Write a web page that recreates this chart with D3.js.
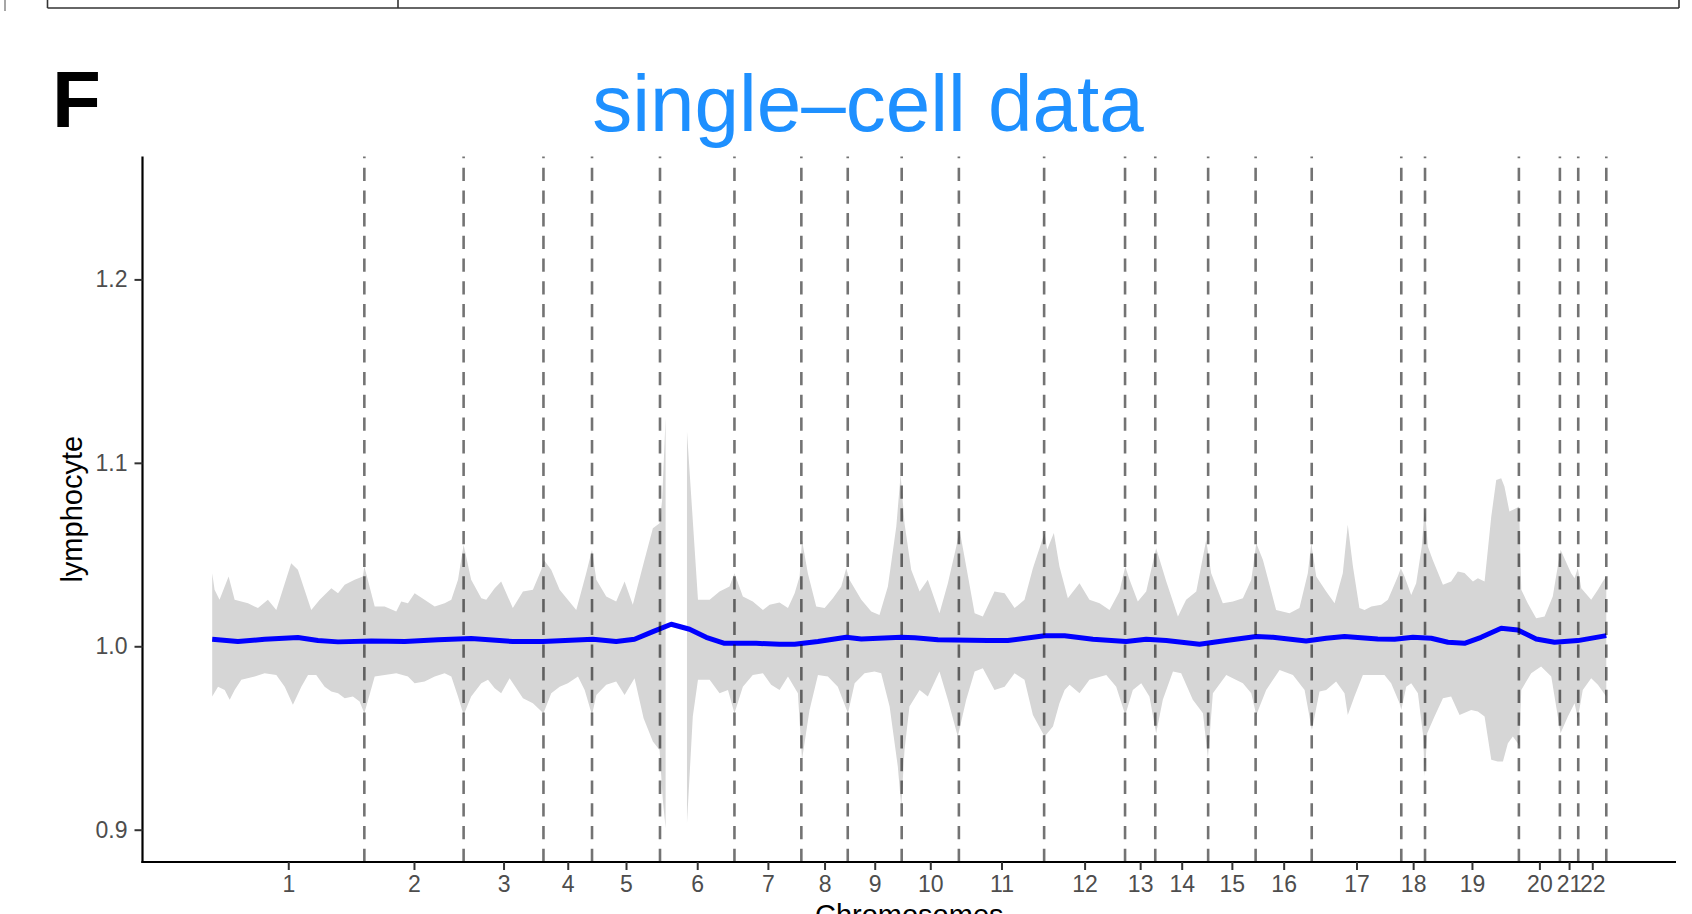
<!DOCTYPE html>
<html>
<head>
<meta charset="utf-8">
<script src="https://cdn.jsdelivr.net/npm/d3@7"></script>
<style>
  html, body { margin: 0; padding: 0; background: #fff; }
  svg { display: block; font-family: "Liberation Sans", Arial, Helvetica, sans-serif; }
</style>
</head>
<body>
<svg id="chart" width="1692" height="914"></svg>
<script>
// ---------------- data ----------------
const chromosomes = ["1","2","3","4","5","6","7","8","9","10","11","12","13","14","15","16","17","18","19","20","21","22"];
const chrGeneCounts = [705,460,370,225,315,345,310,215,250,265,395,375,140,245,220,260,415,110,435,190,85,130];
const yTicks = [0.9, 1.0, 1.1, 1.2];
const yDomain = [0.8824, 1.267];

// smoothed mean (gene index, value)
const meanLine = [[0,1.0038],[119,1.0026],[243,1.0038],[397,1.0048],[490,1.0031],[583,1.0024],[737,1.0029],[892,1.0026],[1046,1.0035],[1200,1.0042],[1393,1.0026],[1532,1.0026],[1764,1.0038],[1872,1.0026],[1957,1.0038],[2042,1.0080],[2127,1.0120],[2212,1.0093],[2289,1.0049],[2374,1.0016],[2521,1.0016],[2629,1.0011],[2699,1.0011],[2807,1.0026],[2938,1.0049],[3008,1.0040],[3193,1.0049],[3255,1.0046],[3363,1.0035],[3594,1.0031],[3687,1.0031],[3857,1.0057],[3950,1.0057],[4081,1.0038],[4235,1.0026],[4328,1.0038],[4421,1.0031],[4575,1.0011],[4699,1.0031],[4838,1.0053],[4915,1.0049],[5069,1.0029],[5162,1.0044],[5247,1.0053],[5401,1.0040],[5479,1.0038],[5564,1.0049],[5649,1.0044],[5726,1.0022],[5803,1.0016],[5880,1.0049],[5973,1.0098],[6050,1.0089],[6135,1.0040],[6220,1.0022],[6328,1.0031],[6460,1.0058]];

// ribbon upper bound (null value = break in ribbon)
const ribbonUpper = [[0,1.0398],[11,1.0308],[34,1.0253],[76,1.0380],[104,1.0253],[135,1.0244],[166,1.0235],[212,1.0208],[258,1.0253],[297,1.0198],[366,1.0453],[397,1.0417],[459,1.0198],[498,1.0253],[552,1.0317],[583,1.0289],[614,1.0335],[660,1.0362],[698,1.0380],[705,1.0435],[753,1.0217],[799,1.0217],[853,1.0189],[876,1.0244],[907,1.0235],[938,1.0289],[984,1.0253],[1031,1.0217],[1077,1.0235],[1108,1.0253],[1139,1.0362],[1165,1.0553],[1200,1.0362],[1247,1.0262],[1270,1.0253],[1309,1.0317],[1339,1.0353],[1393,1.0208],[1440,1.0298],[1486,1.0308],[1525,1.0417],[1537,1.0471],[1571,1.0417],[1610,1.0308],[1648,1.0253],[1687,1.0198],[1733,1.0398],[1760,1.0526],[1780,1.0362],[1826,1.0271],[1872,1.0244],[1911,1.0353],[1949,1.0226],[1999,1.0453],[2042,1.0644],[2073,1.0671],[2085,1.0798],[2101,1.1244],
  [2150,null],
  [2200,1.1171],[2251,1.0253],[2305,1.0253],[2351,1.0298],[2397,1.0326],[2420,1.0398],[2459,1.0271],[2505,1.0244],[2552,1.0198],[2583,1.0226],[2629,1.0238],[2668,1.0208],[2699,1.0289],[2722,1.0380],[2733,1.0580],[2760,1.0398],[2799,1.0217],[2838,1.0208],[2876,1.0262],[2915,1.0326],[2938,1.0426],[2953,1.0362],[3008,1.0253],[3054,1.0189],[3092,1.0171],[3131,1.0326],[3170,1.0653],[3190,1.0935],[3208,1.0671],[3239,1.0417],[3278,1.0298],[3316,1.0362],[3370,1.0180],[3409,1.0344],[3448,1.0544],[3463,1.0635],[3494,1.0435],[3533,1.0180],[3571,1.0162],[3625,1.0298],[3672,1.0289],[3718,1.0208],[3764,1.0253],[3803,1.0426],[3857,1.0617],[3869,1.0526],[3900,1.0617],[3926,1.0435],[3965,1.0262],[4019,1.0344],[4065,1.0253],[4112,1.0235],[4158,1.0198],[4204,1.0298],[4231,1.0435],[4251,1.0362],[4289,1.0244],[4328,1.0298],[4374,1.0535],[4421,1.0353],[4475,1.0162],[4513,1.0253],[4560,1.0298],[4606,1.0580],[4629,1.0398],[4683,1.0235],[4730,1.0244],[4776,1.0262],[4815,1.0362],[4838,1.0562],[4869,1.0471],[4930,1.0198],[4992,1.0180],[5038,1.0208],[5077,1.0398],[5093,1.0562],[5116,1.0380],[5162,1.0298],[5201,1.0235],[5239,1.0398],[5262,1.0662],[5286,1.0435],[5316,1.0208],[5340,1.0198],[5371,1.0217],[5417,1.0226],[5448,1.0253],[5494,1.0380],[5508,1.0426],[5525,1.0380],[5556,1.0280],[5579,1.0344],[5605,1.0544],[5619,1.0762],[5633,1.0544],[5656,1.0471],[5703,1.0335],[5741,1.0353],[5772,1.0408],[5803,1.0399],[5842,1.0353],[5865,1.0371],[5896,1.0353],[5927,1.0707],[5950,1.0907],[5973,1.0916],[5988,1.0871],[6011,1.0735],[6042,1.0753],[6056,1.0762],[6066,1.0308],[6096,1.0235],[6135,1.0153],[6174,1.0162],[6212,1.0271],[6248,1.0526],[6297,1.0398],[6313,1.0371],[6328,1.0426],[6344,1.0317],[6390,1.0253],[6421,1.0308],[6444,1.0353],[6460,1.0380]];

// ribbon lower bound
const ribbonLower = [[0,0.9726],[27,0.9780],[58,0.9762],[81,0.9708],[104,0.9762],[135,0.9817],[197,0.9835],[243,0.9853],[297,0.9844],[336,0.9780],[374,0.9681],[413,0.9780],[444,0.9844],[482,0.9844],[521,0.9780],[552,0.9753],[583,0.9744],[614,0.9717],[652,0.9726],[683,0.9699],[705,0.9635],[753,0.9835],[799,0.9844],[853,0.9853],[907,0.9835],[938,0.9799],[984,0.9808],[1031,0.9835],[1077,0.9853],[1108,0.9835],[1139,0.9726],[1165,0.9626],[1200,0.9726],[1247,0.9799],[1278,0.9817],[1309,0.9771],[1339,0.9744],[1378,0.9826],[1440,0.9717],[1486,0.9690],[1535,0.9635],[1571,0.9744],[1610,0.9780],[1648,0.9799],[1695,0.9835],[1726,0.9762],[1760,0.9626],[1780,0.9735],[1826,0.9790],[1872,0.9808],[1911,0.9735],[1957,0.9826],[1999,0.9608],[2042,0.9481],[2073,0.9435],[2088,0.9163],[2101,0.9008],
  [2150,null],
  [2200,0.9035],[2227,0.9617],[2251,0.9817],[2305,0.9817],[2351,0.9744],[2390,0.9762],[2420,0.9635],[2459,0.9780],[2505,0.9844],[2552,0.9853],[2590,0.9790],[2629,0.9762],[2668,0.9835],[2714,0.9744],[2733,0.9381],[2768,0.9653],[2807,0.9844],[2853,0.9835],[2899,0.9780],[2946,0.9635],[2977,0.9799],[3023,0.9853],[3069,0.9862],[3100,0.9853],[3139,0.9672],[3177,0.9344],[3193,0.9126],[3208,0.9435],[3231,0.9672],[3278,0.9762],[3316,0.9726],[3370,0.9862],[3409,0.9708],[3455,0.9508],[3494,0.9708],[3533,0.9862],[3571,0.9880],[3625,0.9762],[3672,0.9780],[3718,0.9853],[3764,0.9817],[3803,0.9626],[3857,0.9508],[3896,0.9562],[3926,0.9690],[3950,0.9762],[3973,0.9790],[4019,0.9744],[4065,0.9817],[4143,0.9844],[4189,0.9780],[4231,0.9626],[4266,0.9762],[4305,0.9799],[4343,0.9726],[4374,0.9526],[4405,0.9708],[4452,0.9862],[4490,0.9853],[4544,0.9708],[4591,0.9635],[4614,0.9390],[4637,0.9744],[4699,0.9844],[4776,0.9799],[4815,0.9744],[4838,0.9626],[4884,0.9762],[4946,0.9871],[5008,0.9844],[5062,0.9762],[5096,0.9544],[5131,0.9753],[5162,0.9762],[5208,0.9808],[5247,0.9744],[5262,0.9626],[5293,0.9726],[5332,0.9844],[5371,0.9844],[5432,0.9844],[5463,0.9799],[5502,0.9690],[5510,0.9653],[5533,0.9780],[5556,0.9799],[5587,0.9744],[5610,0.9526],[5619,0.9290],[5630,0.9526],[5664,0.9617],[5703,0.9717],[5741,0.9726],[5780,0.9626],[5834,0.9653],[5865,0.9644],[5896,0.9617],[5927,0.9381],[5957,0.9372],[5981,0.9372],[6004,0.9472],[6027,0.9508],[6050,0.9472],[6056,0.9453],[6066,0.9762],[6112,0.9853],[6158,0.9890],[6205,0.9835],[6248,0.9526],[6282,0.9617],[6313,0.9690],[6328,0.9608],[6351,0.9762],[6390,0.9826],[6421,0.9790],[6460,0.9726]];

// ---------------- layout ----------------
const svg = d3.select("#chart");
const panel = { left: 142.5, right: 1676, top: 156.5, bottom: 862 };

const cumEnds = d3.cumsum(chrGeneCounts);
const total = cumEnds[cumEnds.length - 1];
const starts = chrGeneCounts.map((c, i) => cumEnds[i] - c);
const mids = chrGeneCounts.map((c, i) => starts[i] + c / 2);

const pad = total * 0.05;
const x = d3.scaleLinear().domain([-pad, total + pad]).range([panel.left, panel.right]);
const y = d3.scaleLinear().domain(yDomain).range([panel.bottom, panel.top]);

// previous-panel remnants at top
const topFrame = svg.append("g").attr("stroke", "#333").attr("stroke-width", 1.6).attr("fill", "none");
topFrame.append("line").attr("x1", 47.5).attr("x2", 1679).attr("y1", 8).attr("y2", 8);
[47.5, 398, 1679].forEach(px => topFrame.append("line").attr("x1", px).attr("x2", px).attr("y1", 0).attr("y2", 8));
svg.append("line").attr("x1", 5).attr("x2", 5).attr("y1", 0).attr("y2", 11)
  .attr("stroke", "#888").attr("stroke-width", 1.5);

// panel letter and title
svg.append("text").attr("x", 52).attr("y", 127).attr("font-size", 80).attr("font-weight", "bold")
  .attr("fill", "#000").text("F");
svg.append("text").attr("x", 868).attr("y", 131).attr("text-anchor", "middle")
  .attr("font-size", 80).attr("fill", "#1E90FF").text("single\u2013cell data");

// ribbon: split at null breaks
function segments(arr) {
  const segs = [[]];
  arr.forEach(d => { if (d[1] == null) segs.push([]); else segs[segs.length - 1].push(d); });
  return segs.filter(s => s.length);
}
const upSegs = segments(ribbonUpper), loSegs = segments(ribbonLower);
const lineGen = d3.line().x(d => x(d[0])).y(d => y(d[1]));
upSegs.forEach((u, i) => {
  const pts = u.concat(loSegs[i].slice().reverse());
  svg.append("path").attr("d", lineGen(pts) + "Z").attr("fill", "#d6d6d6").attr("stroke", "none");
});

// mean line
svg.append("path").datum(meanLine).attr("d", lineGen)
  .attr("fill", "none").attr("stroke", "#0000ff").attr("stroke-width", 5)
  .attr("stroke-linejoin", "round");

// chromosome boundary lines (dashed), drawn bottom to top
svg.append("g").selectAll("line").data(cumEnds).join("line")
  .attr("x1", d => x(d)).attr("x2", d => x(d))
  .attr("y1", panel.bottom).attr("y2", panel.top)
  .attr("stroke", "#000").attr("stroke-opacity", 0.55).attr("stroke-width", 2.6)
  .attr("stroke-dasharray", "13.3 9.4");

// y axis
const yAxis = svg.append("g").attr("transform", `translate(${panel.left},0)`)
  .call(d3.axisLeft(y).tickValues(yTicks).tickFormat(d3.format(".1f")).tickSize(8).tickSizeOuter(0).tickPadding(7));
yAxis.select(".domain").attr("stroke", "#000").attr("stroke-width", 2.2)
  .attr("d", `M0,${panel.top}V${panel.bottom + 1.1}`);
yAxis.selectAll(".tick line").attr("stroke", "#333").attr("stroke-width", 2);
yAxis.selectAll(".tick text").attr("font-size", 23).attr("fill", "#4d4d4d")
  .attr("font-family", "Liberation Sans, Arial, sans-serif");

// x axis
const xAxis = svg.append("g").attr("transform", `translate(0,${panel.bottom})`)
  .call(d3.axisBottom(x).tickValues(mids).tickFormat((d, i) => chromosomes[i]).tickSize(8).tickSizeOuter(0).tickPadding(6));
xAxis.select(".domain").attr("stroke", "#000").attr("stroke-width", 2.2)
  .attr("d", `M${panel.left - 1.1},0H${panel.right}`);
xAxis.selectAll(".tick line").attr("stroke", "#333").attr("stroke-width", 2);
xAxis.selectAll(".tick text").attr("font-size", 23).attr("fill", "#4d4d4d")
  .attr("font-family", "Liberation Sans, Arial, sans-serif");

// axis titles
svg.append("text").attr("transform", `translate(82,${(panel.top + panel.bottom) / 2}) rotate(-90)`)
  .attr("text-anchor", "middle").attr("font-size", 29).attr("fill", "#000").text("lymphocyte");
svg.append("text").attr("x", (panel.left + panel.right) / 2).attr("y", 925)
  .attr("text-anchor", "middle").attr("font-size", 29).attr("fill", "#000").text("Chromosomes");
</script>
</body>
</html>
